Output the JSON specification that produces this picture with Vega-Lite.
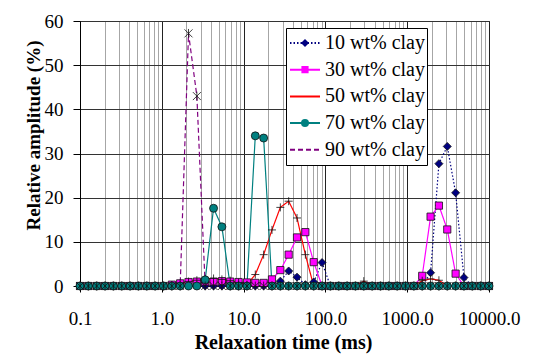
{
"$schema": "https://vega.github.io/schema/vega-lite/v6.json",
"autosize": "none",
"width": 409,
"height": 265,
"padding": {"left": 80, "top": 21, "right": 44, "bottom": 74},
"background": "white",
"config": {"view": {"stroke": "#222", "strokeWidth": 1}, "font": "'Liberation Serif', 'Times New Roman', 'DejaVu Serif', serif"},
"data": {"values": [
{"t":0.1,"s":"10 wt% clay","a":0},{"t":0.1265,"s":"10 wt% clay","a":0},{"t":0.16,"s":"10 wt% clay","a":0},{"t":0.2024,"s":"10 wt% clay","a":0},{"t":0.256,"s":"10 wt% clay","a":0},{"t":0.3238,"s":"10 wt% clay","a":0},{"t":0.4096,"s":"10 wt% clay","a":0},{"t":0.518,"s":"10 wt% clay","a":0},{"t":0.6551,"s":"10 wt% clay","a":0},{"t":0.8286,"s":"10 wt% clay","a":0},
{"t":1.048,"s":"10 wt% clay","a":0},{"t":1.326,"s":"10 wt% clay","a":0},{"t":1.677,"s":"10 wt% clay","a":0},{"t":2.121,"s":"10 wt% clay","a":0},{"t":2.683,"s":"10 wt% clay","a":0},{"t":3.393,"s":"10 wt% clay","a":0},{"t":4.292,"s":"10 wt% clay","a":0},{"t":5.429,"s":"10 wt% clay","a":0},{"t":6.866,"s":"10 wt% clay","a":0},{"t":8.685,"s":"10 wt% clay","a":0},
{"t":10.99,"s":"10 wt% clay","a":0},{"t":13.9,"s":"10 wt% clay","a":0},{"t":17.58,"s":"10 wt% clay","a":0},{"t":22.23,"s":"10 wt% clay","a":0},{"t":28.12,"s":"10 wt% clay","a":1.1},{"t":35.56,"s":"10 wt% clay","a":3.4},{"t":44.98,"s":"10 wt% clay","a":2.0},{"t":56.9,"s":"10 wt% clay","a":0.3},{"t":71.97,"s":"10 wt% clay","a":0.9},{"t":91.03,"s":"10 wt% clay","a":5.3},
{"t":115.1,"s":"10 wt% clay","a":0},{"t":145.6,"s":"10 wt% clay","a":0},{"t":184.2,"s":"10 wt% clay","a":0},{"t":233,"s":"10 wt% clay","a":0},{"t":294.7,"s":"10 wt% clay","a":0},{"t":372.8,"s":"10 wt% clay","a":0},{"t":471.5,"s":"10 wt% clay","a":0},{"t":596.4,"s":"10 wt% clay","a":0},{"t":754.3,"s":"10 wt% clay","a":0},{"t":954.1,"s":"10 wt% clay","a":0},
{"t":1207,"s":"10 wt% clay","a":0},{"t":1526,"s":"10 wt% clay","a":0},{"t":1931,"s":"10 wt% clay","a":3.0},{"t":2442,"s":"10 wt% clay","a":27.7},{"t":3089,"s":"10 wt% clay","a":31.6},{"t":3907,"s":"10 wt% clay","a":21.1},{"t":4942,"s":"10 wt% clay","a":1.9},{"t":6251,"s":"10 wt% clay","a":0},{"t":7906,"s":"10 wt% clay","a":0},{"t":10000,"s":"10 wt% clay","a":0},

{"t":0.1,"s":"30 wt% clay","a":0},{"t":0.1265,"s":"30 wt% clay","a":0},{"t":0.16,"s":"30 wt% clay","a":0},{"t":0.2024,"s":"30 wt% clay","a":0},{"t":0.256,"s":"30 wt% clay","a":0},{"t":0.3238,"s":"30 wt% clay","a":0},{"t":0.4096,"s":"30 wt% clay","a":0},{"t":0.518,"s":"30 wt% clay","a":0},{"t":0.6551,"s":"30 wt% clay","a":0},{"t":0.8286,"s":"30 wt% clay","a":0},
{"t":1.048,"s":"30 wt% clay","a":0},{"t":1.326,"s":"30 wt% clay","a":0.3},{"t":1.677,"s":"30 wt% clay","a":0.6},{"t":2.121,"s":"30 wt% clay","a":0.9},{"t":2.683,"s":"30 wt% clay","a":1.0},{"t":3.393,"s":"30 wt% clay","a":1.0},{"t":4.292,"s":"30 wt% clay","a":1.0},{"t":5.429,"s":"30 wt% clay","a":1.1},{"t":6.866,"s":"30 wt% clay","a":1.0},{"t":8.685,"s":"30 wt% clay","a":0.9},
{"t":10.99,"s":"30 wt% clay","a":0.8},{"t":13.9,"s":"30 wt% clay","a":0.7},{"t":17.58,"s":"30 wt% clay","a":0.7},{"t":22.23,"s":"30 wt% clay","a":1.5},{"t":28.12,"s":"30 wt% clay","a":3.6},{"t":35.56,"s":"30 wt% clay","a":7.1},{"t":44.98,"s":"30 wt% clay","a":11.0},{"t":56.9,"s":"30 wt% clay","a":12.2},{"t":71.97,"s":"30 wt% clay","a":5.4},{"t":91.03,"s":"30 wt% clay","a":0},
{"t":115.1,"s":"30 wt% clay","a":0},{"t":145.6,"s":"30 wt% clay","a":0},{"t":184.2,"s":"30 wt% clay","a":0},{"t":233,"s":"30 wt% clay","a":0},{"t":294.7,"s":"30 wt% clay","a":0},{"t":372.8,"s":"30 wt% clay","a":0},{"t":471.5,"s":"30 wt% clay","a":0},{"t":596.4,"s":"30 wt% clay","a":0},{"t":754.3,"s":"30 wt% clay","a":0},{"t":954.1,"s":"30 wt% clay","a":0},
{"t":1207,"s":"30 wt% clay","a":0},{"t":1526,"s":"30 wt% clay","a":2.3},{"t":1931,"s":"30 wt% clay","a":15.7},{"t":2442,"s":"30 wt% clay","a":18.2},{"t":3089,"s":"30 wt% clay","a":12.8},{"t":3907,"s":"30 wt% clay","a":2.8},{"t":4942,"s":"30 wt% clay","a":0},{"t":6251,"s":"30 wt% clay","a":0},{"t":7906,"s":"30 wt% clay","a":0},{"t":10000,"s":"30 wt% clay","a":0},

{"t":0.1,"s":"50 wt% clay","a":0},{"t":0.1265,"s":"50 wt% clay","a":0},{"t":0.16,"s":"50 wt% clay","a":0},{"t":0.2024,"s":"50 wt% clay","a":0},{"t":0.256,"s":"50 wt% clay","a":0},{"t":0.3238,"s":"50 wt% clay","a":0},{"t":0.4096,"s":"50 wt% clay","a":0},{"t":0.518,"s":"50 wt% clay","a":0},{"t":0.6551,"s":"50 wt% clay","a":0},{"t":0.8286,"s":"50 wt% clay","a":0},
{"t":1.048,"s":"50 wt% clay","a":0},{"t":1.326,"s":"50 wt% clay","a":0.2},{"t":1.677,"s":"50 wt% clay","a":0.6},{"t":2.121,"s":"50 wt% clay","a":1.0},{"t":2.683,"s":"50 wt% clay","a":1.3},{"t":3.393,"s":"50 wt% clay","a":1.6},{"t":4.292,"s":"50 wt% clay","a":1.7},{"t":5.429,"s":"50 wt% clay","a":1.5},{"t":6.866,"s":"50 wt% clay","a":1.2},{"t":8.685,"s":"50 wt% clay","a":0.8},
{"t":10.99,"s":"50 wt% clay","a":0.3},{"t":13.9,"s":"50 wt% clay","a":2.6},{"t":17.58,"s":"50 wt% clay","a":7.1},{"t":22.23,"s":"50 wt% clay","a":12.7},{"t":28.12,"s":"50 wt% clay","a":17.8},{"t":35.56,"s":"50 wt% clay","a":19.2},{"t":44.98,"s":"50 wt% clay","a":15.4},{"t":56.9,"s":"50 wt% clay","a":7.1},{"t":71.97,"s":"50 wt% clay","a":0},{"t":91.03,"s":"50 wt% clay","a":0},
{"t":115.1,"s":"50 wt% clay","a":0},{"t":145.6,"s":"50 wt% clay","a":0},{"t":184.2,"s":"50 wt% clay","a":0},{"t":233,"s":"50 wt% clay","a":0},{"t":294.7,"s":"50 wt% clay","a":1.1},{"t":372.8,"s":"50 wt% clay","a":0},{"t":471.5,"s":"50 wt% clay","a":0},{"t":596.4,"s":"50 wt% clay","a":0},{"t":754.3,"s":"50 wt% clay","a":0},{"t":954.1,"s":"50 wt% clay","a":0},
{"t":1207,"s":"50 wt% clay","a":0},{"t":1526,"s":"50 wt% clay","a":1.2},{"t":1931,"s":"50 wt% clay","a":1.6},{"t":2442,"s":"50 wt% clay","a":1.3},{"t":3089,"s":"50 wt% clay","a":0},{"t":3907,"s":"50 wt% clay","a":0},{"t":4942,"s":"50 wt% clay","a":0},{"t":6251,"s":"50 wt% clay","a":0},{"t":7906,"s":"50 wt% clay","a":0},{"t":10000,"s":"50 wt% clay","a":0},

{"t":0.1,"s":"70 wt% clay","a":0},{"t":0.1265,"s":"70 wt% clay","a":0},{"t":0.16,"s":"70 wt% clay","a":0},{"t":0.2024,"s":"70 wt% clay","a":0},{"t":0.256,"s":"70 wt% clay","a":0},{"t":0.3238,"s":"70 wt% clay","a":0},{"t":0.4096,"s":"70 wt% clay","a":0},{"t":0.518,"s":"70 wt% clay","a":0},{"t":0.6551,"s":"70 wt% clay","a":0},{"t":0.8286,"s":"70 wt% clay","a":0},
{"t":1.048,"s":"70 wt% clay","a":0},{"t":1.326,"s":"70 wt% clay","a":0},{"t":1.677,"s":"70 wt% clay","a":0},{"t":2.121,"s":"70 wt% clay","a":0},{"t":2.683,"s":"70 wt% clay","a":0},{"t":3.393,"s":"70 wt% clay","a":1.4},{"t":4.292,"s":"70 wt% clay","a":17.6},{"t":5.429,"s":"70 wt% clay","a":13.4},{"t":6.866,"s":"70 wt% clay","a":0},{"t":8.685,"s":"70 wt% clay","a":0},
{"t":10.99,"s":"70 wt% clay","a":0},{"t":13.9,"s":"70 wt% clay","a":34.0},{"t":17.58,"s":"70 wt% clay","a":33.5},{"t":22.23,"s":"70 wt% clay","a":0},{"t":28.12,"s":"70 wt% clay","a":0},{"t":35.56,"s":"70 wt% clay","a":0},{"t":44.98,"s":"70 wt% clay","a":0},{"t":56.9,"s":"70 wt% clay","a":0},{"t":71.97,"s":"70 wt% clay","a":0},{"t":91.03,"s":"70 wt% clay","a":0},
{"t":115.1,"s":"70 wt% clay","a":0},{"t":145.6,"s":"70 wt% clay","a":0},{"t":184.2,"s":"70 wt% clay","a":0},{"t":233,"s":"70 wt% clay","a":0},{"t":294.7,"s":"70 wt% clay","a":0},{"t":372.8,"s":"70 wt% clay","a":0},{"t":471.5,"s":"70 wt% clay","a":0},{"t":596.4,"s":"70 wt% clay","a":0},{"t":754.3,"s":"70 wt% clay","a":0},{"t":954.1,"s":"70 wt% clay","a":0},
{"t":1207,"s":"70 wt% clay","a":0},{"t":1526,"s":"70 wt% clay","a":0},{"t":1931,"s":"70 wt% clay","a":0},{"t":2442,"s":"70 wt% clay","a":0},{"t":3089,"s":"70 wt% clay","a":0},{"t":3907,"s":"70 wt% clay","a":0},{"t":4942,"s":"70 wt% clay","a":0},{"t":6251,"s":"70 wt% clay","a":0},{"t":7906,"s":"70 wt% clay","a":0},{"t":10000,"s":"70 wt% clay","a":0},

{"t":0.1,"s":"90 wt% clay","a":0},{"t":0.1265,"s":"90 wt% clay","a":0},{"t":0.16,"s":"90 wt% clay","a":0},{"t":0.2024,"s":"90 wt% clay","a":0},{"t":0.256,"s":"90 wt% clay","a":0},{"t":0.3238,"s":"90 wt% clay","a":0},{"t":0.4096,"s":"90 wt% clay","a":0},{"t":0.518,"s":"90 wt% clay","a":0},{"t":0.6551,"s":"90 wt% clay","a":0},{"t":0.8286,"s":"90 wt% clay","a":0},
{"t":1.048,"s":"90 wt% clay","a":0},{"t":1.326,"s":"90 wt% clay","a":0},{"t":1.677,"s":"90 wt% clay","a":0},{"t":2.121,"s":"90 wt% clay","a":57.2},{"t":2.683,"s":"90 wt% clay","a":43.0},{"t":3.393,"s":"90 wt% clay","a":0},{"t":4.292,"s":"90 wt% clay","a":0},{"t":5.429,"s":"90 wt% clay","a":0},{"t":6.866,"s":"90 wt% clay","a":0},{"t":8.685,"s":"90 wt% clay","a":0},
{"t":10.99,"s":"90 wt% clay","a":0},{"t":13.9,"s":"90 wt% clay","a":0},{"t":17.58,"s":"90 wt% clay","a":0},{"t":22.23,"s":"90 wt% clay","a":0},{"t":28.12,"s":"90 wt% clay","a":0},{"t":35.56,"s":"90 wt% clay","a":0},{"t":44.98,"s":"90 wt% clay","a":0},{"t":56.9,"s":"90 wt% clay","a":0},{"t":71.97,"s":"90 wt% clay","a":0},{"t":91.03,"s":"90 wt% clay","a":0},
{"t":115.1,"s":"90 wt% clay","a":0},{"t":145.6,"s":"90 wt% clay","a":0},{"t":184.2,"s":"90 wt% clay","a":0},{"t":233,"s":"90 wt% clay","a":0},{"t":294.7,"s":"90 wt% clay","a":0},{"t":372.8,"s":"90 wt% clay","a":0},{"t":471.5,"s":"90 wt% clay","a":0},{"t":596.4,"s":"90 wt% clay","a":0},{"t":754.3,"s":"90 wt% clay","a":0},{"t":954.1,"s":"90 wt% clay","a":0},
{"t":1207,"s":"90 wt% clay","a":0},{"t":1526,"s":"90 wt% clay","a":0},{"t":1931,"s":"90 wt% clay","a":0},{"t":2442,"s":"90 wt% clay","a":0},{"t":3089,"s":"90 wt% clay","a":0},{"t":3907,"s":"90 wt% clay","a":0},{"t":4942,"s":"90 wt% clay","a":0},{"t":6251,"s":"90 wt% clay","a":0},{"t":7906,"s":"90 wt% clay","a":0},{"t":10000,"s":"90 wt% clay","a":0}
]},
"layer": [
{
"mark": {"type": "line", "strokeWidth": 1.2, "clip": false},
"encoding": {
"x": {"field": "t", "type": "quantitative",
 "scale": {"type": "log", "domain": [0.1, 10000], "nice": false},
 "axis": {
  "values": [0.1,0.2,0.3,0.4,0.5,0.6,0.7,0.8,0.9,1,2,3,4,5,6,7,8,9,10,20,30,40,50,60,70,80,90,100,200,300,400,500,600,700,800,900,1000,2000,3000,4000,5000,6000,7000,8000,9000,10000],
  "title": "Relaxation time (ms)",
  "titleFont": "'Liberation Serif', 'Times New Roman', 'DejaVu Serif', serif", "titleFontSize": 20, "titleFontWeight": "bold", "titleColor": "#000",
  "titleX": 203, "titleY": 62, "titleAlign": "center", "titleBaseline": "alphabetic", "titleAnchor": null,
  "labelExpr": "abs(log(datum.value)/LN10 - round(log(datum.value)/LN10)) < 0.0001 ? format(datum.value, '.1f') : ''",
  "labelFont": "'Liberation Serif', 'Times New Roman', 'DejaVu Serif', serif", "labelFontSize": 19, "labelColor": "#000",
  "labelBaseline": "alphabetic", "labelPadding": 32, "labelOverlap": false, "labelFlush": false, "labelBound": false,
  "tickSize": 6, "tickColor": "#000", "tickWidth": 1,
  "tickOpacity": {"condition": {"test": "abs(log(datum.value)/LN10 - round(log(datum.value)/LN10)) < 0.0001", "value": 1}, "value": 0},
  "domainColor": "#000", "domainWidth": 1,
  "grid": true, "gridWidth": 1,
  "gridColor": {"condition": {"test": "abs(log(datum.value)/LN10 - round(log(datum.value)/LN10)) < 0.0001", "value": "#222222"}, "value": "#a6a6a6"}
 }},
"y": {"field": "a", "type": "quantitative",
 "scale": {"domain": [0, 60], "nice": false},
 "axis": {
  "values": [0,10,20,30,40,50,60],
  "title": "Relative amplitude (%)",
  "titleFont": "'Liberation Serif', 'Times New Roman', 'DejaVu Serif', serif", "titleFontSize": 19, "titleFontWeight": "bold", "titleColor": "#000",
  "titleX": -41, "titleY": 114, "titleAngle": 270, "titleAlign": "center", "titleBaseline": "alphabetic", "titleAnchor": null,
  "labelFont": "'Liberation Serif', 'Times New Roman', 'DejaVu Serif', serif", "labelFontSize": 19, "labelColor": "#000",
  "labelPadding": 10, "labelBaseline": "middle",
  "tickSize": 7, "tickColor": "#000", "domainColor": "#000",
  "grid": true, "gridColor": "#333333", "gridWidth": 1
 }},
"stroke": {"field": "s", "type": "nominal",
 "scale": {"domain": ["10 wt% clay","30 wt% clay","50 wt% clay","70 wt% clay","90 wt% clay"], "range": ["#000080","#FF00FF","#FF0000","#008080","#800080"]},
 "legend": {"title": null, "orient": "none", "legendX": 206, "legendY": 7, "padding": 2,
  "strokeColor": "#000", "fillColor": "#fff", "symbolType": "stroke", "symbolSize": 900, "symbolStrokeWidth": 2,
  "clipHeight": 26, "rowPadding": 0.7, "symbolOffset": 1, "labelOffset": 4,
  "labelFont": "'Liberation Serif', 'Times New Roman', 'DejaVu Serif', serif", "labelFontSize": 20, "labelColor": "#000", "labelLimit": 300}},
"strokeDash": {"field": "s", "type": "nominal",
 "scale": {"domain": ["10 wt% clay","30 wt% clay","50 wt% clay","70 wt% clay","90 wt% clay"], "range": [[1.5,2],[1,0],[1,0],[1,0],[5,3]]},
 "legend": {"title": null, "orient": "none", "legendX": 206, "legendY": 7, "padding": 2,
  "strokeColor": "#000", "fillColor": "#fff", "symbolType": "stroke", "symbolSize": 900, "symbolStrokeWidth": 2,
  "clipHeight": 26, "rowPadding": 0.7, "symbolOffset": 1, "labelOffset": 4,
  "labelFont": "'Liberation Serif', 'Times New Roman', 'DejaVu Serif', serif", "labelFontSize": 20, "labelColor": "#000", "labelLimit": 300}}
}
},
{
"mark": {"type": "point", "filled": true, "size": 64, "stroke": "#111", "strokeWidth": 0.8, "opacity": 1, "clip": false},
"encoding": {
"x": {"field": "t", "type": "quantitative"},
"y": {"field": "a", "type": "quantitative"},
"fill": {"field": "s", "type": "nominal",
 "scale": {"range": ["#000080","#FF00FF","#000000","#008080","#000000"]},
 "legend": {"title": null, "orient": "none", "legendX": 206, "legendY": 7, "padding": 2,
  "symbolSize": 64, "symbolStrokeWidth": 0.8, "symbolStrokeColor": "#111",
  "clipHeight": 26, "rowPadding": 0.7, "symbolOffset": 7, "labelOffset": 17, "labelExpr": "''",
  "labelFont": "'Liberation Serif', 'Times New Roman', 'DejaVu Serif', serif", "labelFontSize": 20, "labelLimit": 300}},
"shape": {"field": "s", "type": "nominal",
 "scale": {"range": ["diamond","M-0.9,-0.9H0.9V0.9H-0.9Z","M-1,0H1M0,-1V1","circle","M-1,-1L1,1M-1,1L1,-1M0,-1.1V1.1"]},
 "legend": {"title": null, "orient": "none", "legendX": 206, "legendY": 7, "padding": 2,
  "symbolSize": 64, "symbolStrokeWidth": 0.8, "symbolStrokeColor": "#111",
  "clipHeight": 26, "rowPadding": 0.7, "symbolOffset": 7, "labelOffset": 17, "labelExpr": "''",
  "labelFont": "'Liberation Serif', 'Times New Roman', 'DejaVu Serif', serif", "labelFontSize": 20, "labelLimit": 300}}
}
}
]
}
